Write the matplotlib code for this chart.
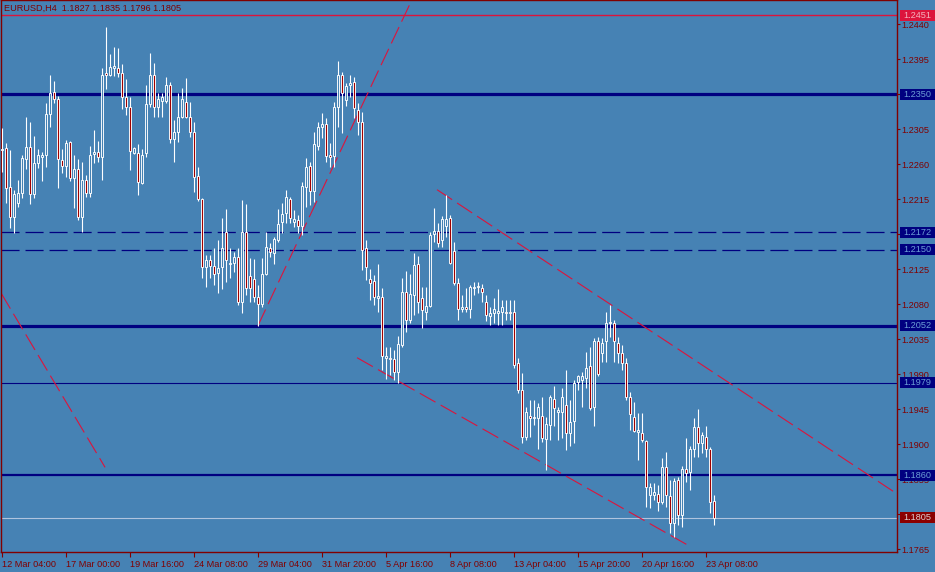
import numpy as np
import matplotlib
matplotlib.use("Agg")
import matplotlib.pyplot as plt
import matplotlib.transforms as mtransforms
from matplotlib.patches import Rectangle

plt.rcParams['font.family'] = ['Liberation Sans', 'DejaVu Sans']
plt.rcParams['lines.scale_dashes'] = False

# EURUSD H4 candles (open, high, low, close)
opens = [1.2278, 1.2281, 1.2231, 1.2192, 1.2210, 1.2223, 1.2267, 1.2282, 1.2222, 1.2261,
         1.2269, 1.2272, 1.2324, 1.2353, 1.2344, 1.2265, 1.2257, 1.2288, 1.2242, 1.2254,
         1.2192, 1.2239, 1.2223, 1.2273, 1.2275, 1.2269, 1.2377, 1.2374, 1.2383, 1.2383,
         1.2377, 1.2346, 1.2333, 1.2274, 1.2274, 1.2235, 1.2274, 1.2337, 1.2374, 1.2333,
         1.2341, 1.2341, 1.2362, 1.2292, 1.2301, 1.2320, 1.2340, 1.2320, 1.2301, 1.2245,
         1.2215, 1.2128, 1.2137, 1.2129, 1.2120, 1.2128, 1.2173, 1.2132, 1.2133, 1.2141,
         1.2082, 1.2173, 1.2116, 1.2112, 1.2089, 1.2080, 1.2119, 1.2152, 1.2146, 1.2162,
         1.2185, 1.2197, 1.2215, 1.2185, 1.2188, 1.2180, 1.2231, 1.2257, 1.2225, 1.2283,
         1.2308, 1.2312, 1.2272, 1.2270, 1.2333, 1.2374, 1.2342, 1.2362, 1.2365, 1.2329,
         1.2314, 1.2152, 1.2112, 1.2110, 1.2088, 1.2089, 1.2011, 1.2011, 1.2009, 1.1993,
         1.2027, 1.2095, 1.2059, 1.2092, 1.2132, 1.2088, 1.2070, 1.2078, 1.2170, 1.2174,
         1.2162, 1.2180, 1.2191, 1.2148, 1.2107, 1.2074, 1.2076, 1.2074, 1.2101, 1.2102,
         1.2101, 1.2083, 1.2065, 1.2069, 1.2069, 1.2070, 1.2070, 1.2070, 1.2070, 1.2004,
         1.1970, 1.1909, 1.1936, 1.1933, 1.1933, 1.1936, 1.1907, 1.1924, 1.1958, 1.1941,
         1.1941, 1.1950, 1.1914, 1.1930, 1.1980, 1.1982, 1.1985, 1.2000, 1.1948, 1.2033,
         1.2017, 1.2032, 1.2055, 1.2056, 1.2030, 1.2017, 1.2004, 1.1961, 1.1935, 1.1916,
         1.1914, 1.1904, 1.1834, 1.1834, 1.1836, 1.1825, 1.1871, 1.1833, 1.1799, 1.1854,
         1.1809, 1.1868, 1.1864, 1.1893, 1.1922, 1.1901, 1.1909, 1.1893, 1.1827]
highs = [1.2306, 1.2287, 1.2278, 1.2227, 1.2239, 1.2272, 1.2320, 1.2314, 1.2296, 1.2279,
         1.2275, 1.2339, 1.2374, 1.2367, 1.2347, 1.2279, 1.2291, 1.2290, 1.2272, 1.2267,
         1.2263, 1.2246, 1.2283, 1.2304, 1.2290, 1.2383, 1.2436, 1.2401, 1.2410, 1.2409,
         1.2389, 1.2369, 1.2346, 1.2282, 1.2286, 1.2279, 1.2362, 1.2403, 1.2390, 1.2351,
         1.2351, 1.2372, 1.2365, 1.2317, 1.2351, 1.2358, 1.2371, 1.2340, 1.2314, 1.2256,
         1.2216, 1.2143, 1.2143, 1.2152, 1.2162, 1.2191, 1.2202, 1.2152, 1.2147, 1.2152,
         1.2214, 1.2208, 1.2139, 1.2138, 1.2104, 1.2139, 1.2173, 1.2159, 1.2166, 1.2202,
         1.2210, 1.2227, 1.2218, 1.2201, 1.2195, 1.2237, 1.2268, 1.2263, 1.2301, 1.2314,
         1.2325, 1.2319, 1.2287, 1.2340, 1.2392, 1.2378, 1.2364, 1.2374, 1.2372, 1.2339,
         1.2327, 1.2162, 1.2125, 1.2117, 1.2132, 1.2101, 1.2025, 1.2025, 1.2021, 1.2039,
         1.2113, 1.2123, 1.2119, 1.2146, 1.2142, 1.2102, 1.2102, 1.2173, 1.2203, 1.2184,
         1.2193, 1.2220, 1.2195, 1.2160, 1.2113, 1.2092, 1.2101, 1.2104, 1.2108, 1.2108,
         1.2106, 1.2092, 1.2076, 1.2088, 1.2099, 1.2085, 1.2085, 1.2085, 1.2085, 1.2011,
         1.1991, 1.1948, 1.1957, 1.1957, 1.1953, 1.1961, 1.1935, 1.1963, 1.1974, 1.1948,
         1.1972, 1.1995, 1.1957, 1.1982, 1.1989, 1.1992, 1.2018, 1.2025, 1.2036, 1.2038,
         1.2036, 1.2070, 1.2079, 1.2059, 1.2038, 1.2027, 1.2011, 1.1967, 1.1954, 1.1940,
         1.1940, 1.1905, 1.1850, 1.1850, 1.1847, 1.1882, 1.1890, 1.1854, 1.1856, 1.1858,
         1.1872, 1.1908, 1.1897, 1.1933, 1.1945, 1.1916, 1.1923, 1.1896, 1.1835]
lows = [1.2250, 1.2210, 1.2178, 1.2171, 1.2205, 1.2216, 1.2254, 1.2208, 1.2216, 1.2255,
        1.2238, 1.2256, 1.2308, 1.2339, 1.2229, 1.2248, 1.2243, 1.2238, 1.2203, 1.2188,
        1.2173, 1.2218, 1.2218, 1.2261, 1.2263, 1.2239, 1.2356, 1.2373, 1.2373, 1.2372,
        1.2331, 1.2323, 1.2252, 1.2273, 1.2220, 1.2234, 1.2269, 1.2333, 1.2320, 1.2320,
        1.2320, 1.2339, 1.2287, 1.2263, 1.2288, 1.2319, 1.2319, 1.2295, 1.2224, 1.2212,
        1.2113, 1.2102, 1.2113, 1.2104, 1.2094, 1.2099, 1.2108, 1.2113, 1.2121, 1.2079,
        1.2069, 1.2092, 1.2083, 1.2082, 1.2052, 1.2076, 1.2117, 1.2141, 1.2132, 1.2160,
        1.2171, 1.2184, 1.2184, 1.2179, 1.2171, 1.2169, 1.2205, 1.2207, 1.2211, 1.2278,
        1.2293, 1.2263, 1.2256, 1.2256, 1.2308, 1.2300, 1.2335, 1.2346, 1.2319, 1.2297,
        1.2124, 1.2111, 1.2085, 1.2079, 1.2070, 1.1995, 1.1984, 1.1989, 1.1982, 1.1978,
        1.2025, 1.2044, 1.2056, 1.2066, 1.2069, 1.2049, 1.2059, 1.2076, 1.2160, 1.2153,
        1.2153, 1.2166, 1.2132, 1.2105, 1.2059, 1.2070, 1.2070, 1.2062, 1.2092, 1.2094,
        1.2083, 1.2058, 1.2053, 1.2056, 1.2053, 1.2053, 1.2059, 1.2059, 1.1998, 1.1966,
        1.1901, 1.1905, 1.1909, 1.1924, 1.1893, 1.1903, 1.1867, 1.1905, 1.1923, 1.1905,
        1.1908, 1.1892, 1.1897, 1.1901, 1.1969, 1.1948, 1.1972, 1.1944, 1.1923, 1.1988,
        1.2005, 1.2005, 1.2038, 1.2005, 1.2004, 1.1995, 1.1957, 1.1918, 1.1916, 1.1879,
        1.1903, 1.1819, 1.1818, 1.1828, 1.1814, 1.1823, 1.1819, 1.1786, 1.1781, 1.1796,
        1.1793, 1.1851, 1.1841, 1.1883, 1.1883, 1.1888, 1.1883, 1.1811, 1.1796]
closes = [1.2279, 1.2229, 1.2192, 1.2222, 1.2223, 1.2268, 1.2282, 1.2222, 1.2261, 1.2272,
          1.2272, 1.2324, 1.2351, 1.2344, 1.2267, 1.2257, 1.2287, 1.2242, 1.2254, 1.2192,
          1.2239, 1.2223, 1.2272, 1.2275, 1.2269, 1.2374, 1.2374, 1.2385, 1.2386, 1.2377,
          1.2346, 1.2333, 1.2277, 1.2281, 1.2237, 1.2272, 1.2337, 1.2374, 1.2333, 1.2344,
          1.2346, 1.2362, 1.2292, 1.2301, 1.2320, 1.2344, 1.2320, 1.2301, 1.2243, 1.2215,
          1.2128, 1.2136, 1.2129, 1.2119, 1.2126, 1.2152, 1.2136, 1.2133, 1.2141, 1.2082,
          1.2173, 1.2101, 1.2101, 1.2089, 1.2080, 1.2119, 1.2153, 1.2147, 1.2164, 1.2183,
          1.2196, 1.2218, 1.2191, 1.2189, 1.2180, 1.2232, 1.2256, 1.2225, 1.2286, 1.2308,
          1.2312, 1.2270, 1.2269, 1.2333, 1.2374, 1.2351, 1.2360, 1.2364, 1.2332, 1.2314,
          1.2150, 1.2128, 1.2107, 1.2089, 1.2090, 1.2013, 1.2013, 1.2009, 1.1993, 1.2029,
          1.2095, 1.2059, 1.2093, 1.2130, 1.2083, 1.2072, 1.2078, 1.2169, 1.2174, 1.2159,
          1.2189, 1.2189, 1.2133, 1.2107, 1.2074, 1.2076, 1.2074, 1.2102, 1.2102, 1.2103,
          1.2095, 1.2066, 1.2069, 1.2074, 1.2071, 1.2076, 1.2069, 1.2068, 1.2002, 1.1969,
          1.1909, 1.1941, 1.1933, 1.1935, 1.1948, 1.1908, 1.1926, 1.1961, 1.1946, 1.1944,
          1.1961, 1.1914, 1.1928, 1.1978, 1.1987, 1.1988, 1.1998, 1.1946, 1.2033, 1.1990,
          1.2030, 1.2056, 1.2057, 1.2032, 1.2017, 1.2004, 1.1961, 1.1938, 1.1917, 1.1918,
          1.1905, 1.1845, 1.1845, 1.1838, 1.1825, 1.1871, 1.1834, 1.1799, 1.1853, 1.1809,
          1.1868, 1.1863, 1.1893, 1.1922, 1.1901, 1.1912, 1.1893, 1.1825, 1.1805]

time_labels = ['12 Mar 04:00', '17 Mar 00:00', '19 Mar 16:00', '24 Mar 08:00',
               '29 Mar 04:00', '31 Mar 20:00', '5 Apr 16:00', '8 Apr 08:00',
               '13 Apr 04:00', '15 Apr 20:00', '20 Apr 16:00', '23 Apr 08:00']
time_label_bars = [0, 16, 32, 48, 64, 80, 96, 112, 128, 144, 160, 176]

price_ticks = [1.1765, 1.1810, 1.1855, 1.1900, 1.1945, 1.1990, 1.2035, 1.2080,
               1.2125, 1.2170, 1.2215, 1.2260, 1.2305, 1.2350, 1.2395, 1.2440]

# horizontal level lines
level_prices = [1.2451, 1.2350, 1.2172, 1.2150, 1.2052, 1.1979, 1.1860, 1.1805]

# trend lines: (bar, price) endpoints
trend_lines = [
    [(-0.3, 1.2094), (25.7, 1.1870)],
    [(63.9, 1.2052), (102.4, 1.2471)],
    [(108.7, 1.2227), (223.4, 1.1837)],
    [(88.7, 1.2011), (171.4, 1.1770)],
]

bg = '#4682B4'
maroon = '#800000'
navy = '#000080'
crimson = '#DC143C'

fig = plt.figure(figsize=(9.35, 5.72), dpi=100, facecolor=bg)
ax = fig.add_axes([1 / 935, 20 / 572, 896 / 935, 552 / 572])
ax.set_facecolor(bg)
ax.set_xlim(-0.325, 223.7)
ax.set_ylim(1.17612, 1.24709)

o = np.array(opens)
h = np.array(highs)
l = np.array(lows)
c = np.array(closes)
idx = np.arange(len(o))

# level lines
lvl_style = {
    1.2451: dict(color=crimson, lw=1.0, ls='-'),
    1.2350: dict(color=navy, lw=2.3, ls='-'),
    1.2172: dict(color=navy, lw=0.9, ls=(0, (13, 4.3))),
    1.2150: dict(color=navy, lw=0.9, ls=(0, (13, 4.3))),
    1.2052: dict(color=navy, lw=2.3, ls='-'),
    1.1979: dict(color=navy, lw=0.8, ls='-'),
    1.1860: dict(color=navy, lw=1.6, ls='-'),
    1.1805: dict(color='#B0C4DE', lw=0.8, ls='-'),
}
for p in level_prices:
    st = lvl_style[p]
    ax.axhline(p, color=st['color'], lw=st['lw'], linestyle=st['ls'], zorder=2)

# trend lines
for seg in trend_lines:
    xs = [pt[0] for pt in seg]
    ys = [pt[1] for pt in seg]
    ax.plot(xs, ys, color=crimson, lw=0.8, linestyle=(0, (13, 4.3)), zorder=2.2)

# candles
ax.vlines(idx, l, h, color='white', lw=0.8, zorder=3)
fills = np.where(c < o, '#A00000', bg)
ax.bar(idx, np.abs(c - o), bottom=np.minimum(o, c), width=0.58, color=fills,
       edgecolor='white', linewidth=0.65, zorder=3.5)

# frame and axes
for s in ax.spines.values():
    s.set_color(maroon)
    s.set_linewidth(1.0)
ax.yaxis.tick_right()
ax.set_yticks(price_ticks)
ax.set_yticklabels(['%.4f' % t for t in price_ticks])
ax.tick_params(axis='y', direction='out', length=2.5, width=0.8, colors=maroon,
               labelsize=6.6, pad=0.8)
ax.set_xticks(time_label_bars)
ax.set_xticklabels(time_labels, ha='left')
ax.tick_params(axis='x', direction='out', length=3.5, width=0.8, colors=maroon,
               labelsize=6.6, pad=2.5)

# price boxes on the right
box_cols = {
    1.2451: (crimson, '#F4B0BC'),
    1.2350: (navy, '#6C9FD6'),
    1.2172: (navy, '#6C9FD6'),
    1.2150: (navy, '#6C9FD6'),
    1.2052: (navy, '#6C9FD6'),
    1.1979: (navy, '#6C9FD6'),
    1.1860: (navy, '#6C9FD6'),
    1.1805: ('#8B0000', '#E0D0D0'),
}
trans = mtransforms.blended_transform_factory(ax.transAxes, ax.transData)
px_y = (1.24709 - 1.17612) / 552
bx0 = 899 / 896
bw = 35 / 896
for p in level_prices:
    fc, tc = box_cols[p]
    ax.add_patch(Rectangle((bx0, p - 5.5 * px_y), bw, 11 * px_y, transform=trans,
                           facecolor=fc, edgecolor='none', clip_on=False, zorder=5))
    ax.text(bx0 + bw / 2, p, '%.4f' % p, transform=trans, color=tc, fontsize=6.6,
            ha='center', va='center', clip_on=False, zorder=6)

# title
ax.text(3 / 896, 1 - 8 / 552, 'EURUSD,H4  1.1827 1.1835 1.1796 1.1805',
        transform=ax.transAxes, color=maroon, fontsize=6.6, ha='left', va='center',
        zorder=6)

fig.savefig('out.png', dpi=100, facecolor=bg)
